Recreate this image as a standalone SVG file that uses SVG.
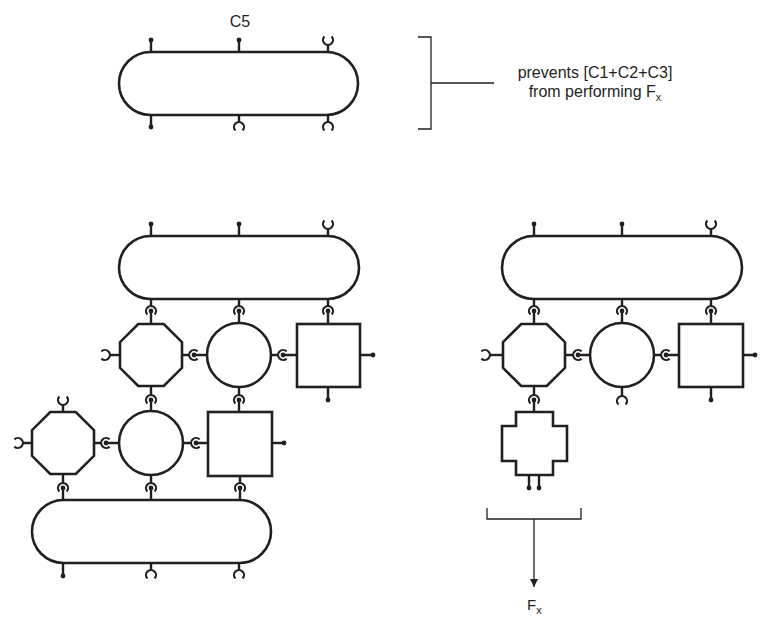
<svg xmlns="http://www.w3.org/2000/svg" xmlns:xlink="http://www.w3.org/1999/xlink" width="760" height="621" viewBox="0 0 760 621">
<style>
.sh{fill:#fff;stroke:#231f20;stroke-width:2.6}
.ln{fill:none;stroke:#231f20;stroke-width:2.4}
.br{fill:none;stroke:#231f20;stroke-width:1.3}
.tx{font-family:"Liberation Sans",Arial,sans-serif;font-size:16px;fill:#231f20}
</style>
<defs>
<path id="sk" d="M -3.6 3.6 A 5 5 0 1 1 3.6 3.6" fill="none" stroke="#231f20" stroke-width="2.2"/>
<circle id="dt" r="2.4" fill="#231f20"/>
<marker id="ah" markerWidth="8" markerHeight="12" refX="8" refY="4" orient="auto" markerUnits="userSpaceOnUse" viewBox="0 0 8 12">
<path d="M0,0 L8,4 L0,8 Z" fill="#231f20"/>
</marker>
</defs>
<rect width="760" height="621" fill="#fff"/>

<!-- C5 -->
<g id="c5">
<text class="tx" x="240" y="27" text-anchor="middle">C5</text>
<path class="ln" d="M151,52V40M239,52V40M328,52V45M151,115V127M239,115V122M328,115V122"/>
<rect class="sh" x="119" y="52" width="239" height="63" rx="31.5"/>
<use xlink:href="#dt" x="151" y="40"/><use xlink:href="#dt" x="239" y="40"/>
<use xlink:href="#sk" transform="translate(328,40) rotate(180)"/>
<use xlink:href="#dt" x="151" y="127"/>
<use xlink:href="#sk" transform="translate(239,127)"/>
<use xlink:href="#sk" transform="translate(328,127)"/>
</g>

<g id="note">
<path class="br" d="M418,37H431V129H418M431,83H494"/>
<text class="tx" x="595" y="78" text-anchor="middle">prevents [C1+C2+C3]</text>
<text class="tx" x="595" y="97" text-anchor="middle">from performing F<tspan style="font-size:11px" dy="4">x</tspan></text>
</g>

<!-- left assembly -->
<g id="capA">
<path class="ln" d="M151,236V224M239,236V224M328,236V229"/>
<rect class="sh" x="119" y="236" width="240" height="63" rx="31.5"/>
<use xlink:href="#dt" x="151" y="224"/><use xlink:href="#dt" x="239" y="224"/>
<use xlink:href="#sk" transform="translate(328,224) rotate(180)"/>
</g>
<g id="octA">
<path class="ln" d="M110,355H120"/>
<use xlink:href="#sk" transform="translate(105,355) rotate(90)"/>
<polygon class="sh" points="138.2,324 163.8,324 182,342.2 182,367.8 163.8,386 138.2,386 120,367.8 120,342.2"/>
</g>
<g id="cirA"><circle class="sh" cx="239" cy="355" r="32"/></g>
<g id="sqA">
<path class="ln" d="M360,355H373M328,387V400"/>
<rect class="sh" x="297" y="324" width="63" height="63"/>
<use xlink:href="#dt" x="373" y="355"/><use xlink:href="#dt" x="328" y="400"/>
</g>
<g id="octB">
<path class="ln" d="M23,443H32M63,405V412"/>
<use xlink:href="#sk" transform="translate(18,443) rotate(90)"/>
<use xlink:href="#sk" transform="translate(63,400) rotate(180)"/>
<polygon class="sh" points="50.2,412 75.8,412 94,430.2 94,455.8 75.8,474 50.2,474 32,455.8 32,430.2"/>
</g>
<g id="cirB"><circle class="sh" cx="151" cy="443" r="32"/></g>
<g id="sqB">
<path class="ln" d="M272,443H284"/>
<rect class="sh" x="208" y="412" width="64" height="64"/>
<use xlink:href="#dt" x="284" y="443"/>
</g>
<g id="capB">
<path class="ln" d="M63,563V576M151,563V570M239,563V570"/>
<rect class="sh" x="32" y="500" width="239" height="63" rx="31.5"/>
<use xlink:href="#dt" x="63" y="576"/>
<use xlink:href="#sk" transform="translate(151,575)"/>
<use xlink:href="#sk" transform="translate(239,575)"/>
</g>

<!-- right assembly -->
<g id="capC">
<path class="ln" d="M534,236V224M622,236V224M711,236V229"/>
<rect class="sh" x="502" y="236" width="240" height="63" rx="31.5"/>
<use xlink:href="#dt" x="534" y="224"/><use xlink:href="#dt" x="622" y="224"/>
<use xlink:href="#sk" transform="translate(711,224) rotate(180)"/>
</g>
<g id="octC">
<path class="ln" d="M490,355H503"/>
<use xlink:href="#sk" transform="translate(485,355) rotate(90)"/>
<polygon class="sh" points="521.2,324 546.8,324 565,342.2 565,367.8 546.8,386 521.2,386 503,367.8 503,342.2"/>
</g>
<g id="cirC">
<path class="ln" d="M622,387V396"/>
<circle class="sh" cx="622" cy="355" r="32"/>
<use xlink:href="#sk" transform="translate(622,401)"/>
</g>
<g id="sqC">
<path class="ln" d="M743,355H755M711,387V400"/>
<rect class="sh" x="679" y="324" width="64" height="63"/>
<use xlink:href="#dt" x="755" y="355"/><use xlink:href="#dt" x="711" y="400"/>
</g>
<g id="crossC">
<path class="ln" d="M529,475V488M539,475V488"/>
<path class="sh" d="M516,412H553V426H567V461H553V475H516V461H502V426H516Z"/>
<use xlink:href="#dt" x="529" y="488"/><use xlink:href="#dt" x="539" y="488"/>
</g>
<g id="out">
<path class="br" d="M487,508V519H581V508M534,519V587" marker-end="url(#ah)"/>
<text class="tx" x="527" y="610" style="font-size:15px">F<tspan style="font-size:11px" dy="4">x</tspan></text>
</g>

<!-- connectors (ball-and-socket joints) -->
<g id="connectors">
<path class="ln" d="M151,299V306M151,311V324M239,299V306M239,311V323M328,299V306M328,311V324
M151,386V395M151,400V411M239,387V395M239,400V412
M63,474V483M63,488V500M151,475V483M151,488V500M240,476V483M240,488V500
M182,355H189M194,355H207M271,355H278M283,355H297
M94,443H101M106,443H119M183,443H191M196,443H208
M534,299V306M534,311V324M622,299V306M622,311V323M711,299V306M711,311V324
M566,355H573M578,355H590M654,355H661M666,355H679
M534,386V395M534,400V412"/>
<use xlink:href="#sk" transform="translate(151,311)"/><use xlink:href="#dt" x="151" y="311"/>
<use xlink:href="#sk" transform="translate(239,311)"/><use xlink:href="#dt" x="239" y="311"/>
<use xlink:href="#sk" transform="translate(328,311)"/><use xlink:href="#dt" x="328" y="311"/>
<use xlink:href="#sk" transform="translate(151,400)"/><use xlink:href="#dt" x="151" y="400"/>
<use xlink:href="#sk" transform="translate(239,400)"/><use xlink:href="#dt" x="239" y="400"/>
<use xlink:href="#sk" transform="translate(63,488)"/><use xlink:href="#dt" x="63" y="488"/>
<use xlink:href="#sk" transform="translate(151,488)"/><use xlink:href="#dt" x="151" y="488"/>
<use xlink:href="#sk" transform="translate(240,488)"/><use xlink:href="#dt" x="240" y="488"/>
<use xlink:href="#sk" transform="translate(194,355) rotate(-90)"/><use xlink:href="#dt" x="194" y="355"/>
<use xlink:href="#sk" transform="translate(283,355) rotate(-90)"/><use xlink:href="#dt" x="283" y="355"/>
<use xlink:href="#sk" transform="translate(106,443) rotate(-90)"/><use xlink:href="#dt" x="106" y="443"/>
<use xlink:href="#sk" transform="translate(196,443) rotate(-90)"/><use xlink:href="#dt" x="196" y="443"/>
<use xlink:href="#sk" transform="translate(534,311)"/><use xlink:href="#dt" x="534" y="311"/>
<use xlink:href="#sk" transform="translate(622,311)"/><use xlink:href="#dt" x="622" y="311"/>
<use xlink:href="#sk" transform="translate(711,311)"/><use xlink:href="#dt" x="711" y="311"/>
<use xlink:href="#sk" transform="translate(578,355) rotate(-90)"/><use xlink:href="#dt" x="578" y="355"/>
<use xlink:href="#sk" transform="translate(666,355) rotate(-90)"/><use xlink:href="#dt" x="666" y="355"/>
<use xlink:href="#sk" transform="translate(534,400)"/><use xlink:href="#dt" x="534" y="400"/>
</g>
</svg>
